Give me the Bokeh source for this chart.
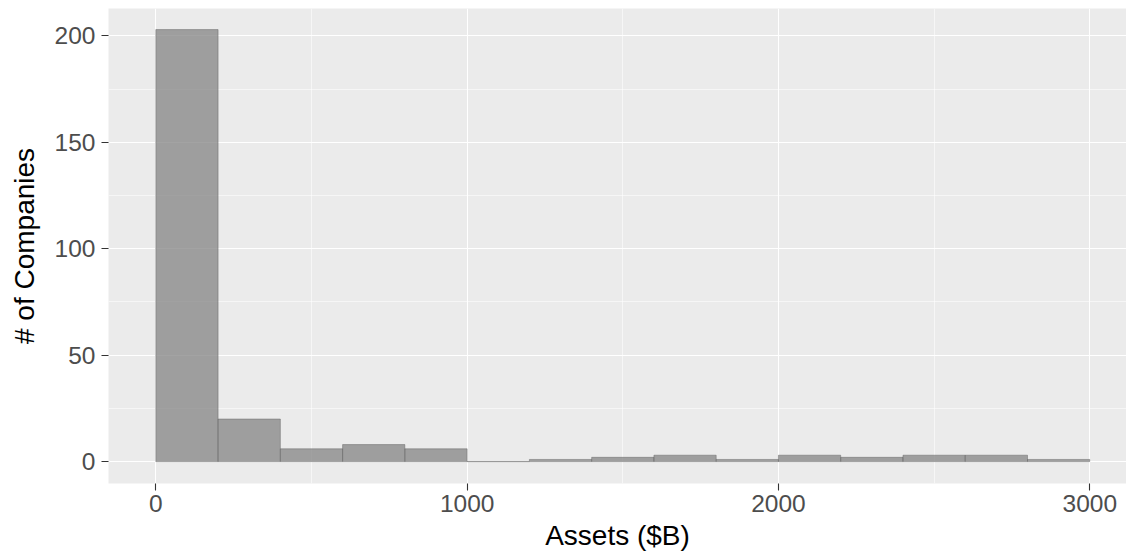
from bokeh.plotting import figure
from bokeh.models import FixedTicker, Range1d
from bokeh.embed import file_html
from bokeh.resources import INLINE

# Histogram of company assets ($B), bin width 200
bin_left = [0, 200, 400, 600, 800, 1000, 1200, 1400, 1600, 1800, 2000, 2200, 2400, 2600, 2800]
bin_right = [200, 400, 600, 800, 1000, 1200, 1400, 1600, 1800, 2000, 2200, 2400, 2600, 2800, 3000]
counts = [203, 20, 6, 8, 6, 0, 1, 2, 3, 1, 3, 2, 3, 3, 1]

x_ticks = [0, 1000, 2000, 3000]
x_minor = [500, 1500, 2500]
y_ticks = [0, 50, 100, 150, 200]
y_minor = [25, 75, 125, 175]

x_title = "Assets ($B)"
y_title = "# of Companies"

p = figure(width=1126, height=557,
           x_range=Range1d(-152, 3118), y_range=Range1d(-10.3, 212.9),
           output_backend="svg", toolbar_location=None,
           min_border_left=108, min_border_right=0,
           min_border_top=8, min_border_bottom=74)

p.background_fill_color = "#EBEBEB"
p.border_fill_color = "white"
p.outline_line_color = None

p.quad(left=bin_left, right=bin_right, top=counts, bottom=0,
       fill_color="#808080", fill_alpha=0.72,
       line_color="#5a5a5a", line_alpha=0.7, line_width=0.6)

p.xaxis.ticker = FixedTicker(ticks=x_ticks, minor_ticks=x_minor)
p.yaxis.ticker = FixedTicker(ticks=y_ticks, minor_ticks=y_minor)

for g in (p.xgrid, p.ygrid):
    g.grid_line_color = "white"
    g.grid_line_width = 1.1
    g.minor_grid_line_color = "white"
    g.minor_grid_line_width = 0.55

for ax in (p.xaxis, p.yaxis):
    ax.axis_line_color = None
    ax.major_tick_in = 0
    ax.major_tick_out = 7
    ax.major_tick_line_color = "#333333"
    ax.major_tick_line_width = 1.1
    ax.minor_tick_line_color = None
    ax.major_label_text_color = "#4D4D4D"
    ax.major_label_text_font = "Liberation Sans"
    ax.major_label_text_font_size = "24.5px"
    ax.axis_label_text_font = "Liberation Sans"
    ax.axis_label_text_font_size = "28px"
    ax.axis_label_text_font_style = "normal"
    ax.axis_label_text_color = "black"

p.yaxis.major_label_standoff = 6
p.yaxis.axis_label = y_title
p.yaxis.axis_label_standoff = 12

p.xaxis.major_label_standoff = 4
p.xaxis.axis_label = x_title
p.xaxis.axis_label_standoff = 5

open("out.html", "w").write(file_html(p, INLINE))
